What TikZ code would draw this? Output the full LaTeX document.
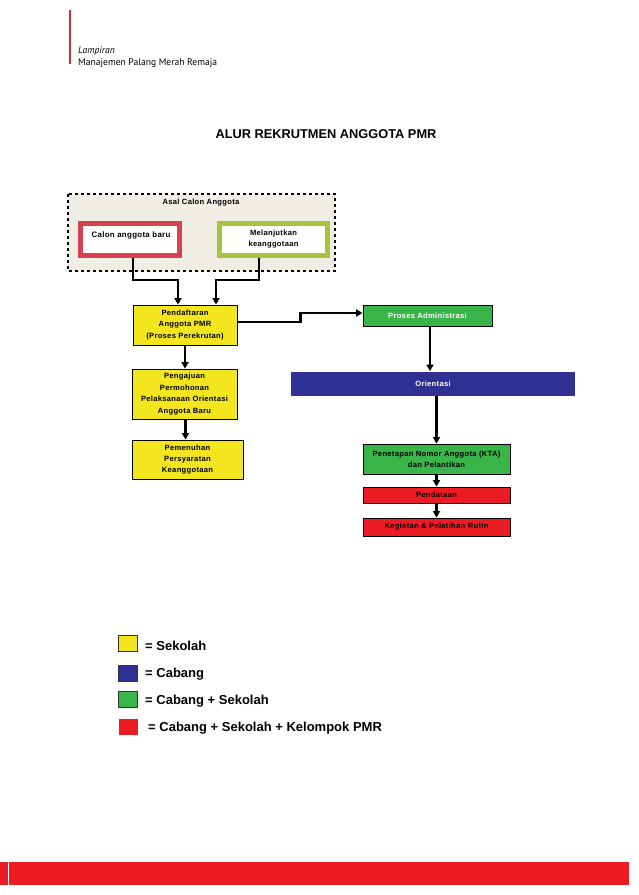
\documentclass[tikz,border=0pt]{standalone}
\usepackage{fontspec}
\setmainfont{Liberation Sans}
\newfontfamily\boxfont{Liberation Sans}[LetterSpace=4]
\newfontfamily\hdrfont{PT Sans}
\usetikzlibrary{arrows.meta,positioning}

\definecolor{pmrred}{HTML}{ED1C24}
\definecolor{pmryellow}{HTML}{F4E61E}
\definecolor{pmrblue}{HTML}{2E3192}
\definecolor{pmrgreen}{HTML}{39B54A}
\definecolor{asalbg}{HTML}{F0EEE4}
\definecolor{barured}{HTML}{D6434E}
\definecolor{lanjutgreen}{HTML}{A8C43C}
\definecolor{hdrred}{HTML}{C8313C}

\tikzset{
  flowbox/.style={draw=black, line width=0.8pt, inner sep=1pt, align=center,
    font=\boxfont\fontsize{7.6}{11.4}\selectfont\bfseries},
  yellowbox/.style={flowbox, fill=pmryellow},
  greenbox/.style={flowbox, fill=pmrgreen, text=white},
  redbox/.style={flowbox, fill=pmrred, text=black},
  bluebox/.style={flowbox, draw=none, fill=pmrblue, text=white},
  asalbox/.style={draw, line width=5pt, fill=white, inner sep=0pt},
  flow/.style={line width=2.6pt, -{Triangle[width=7pt,length=6.5pt]}},
  legendsq/.style={draw=black!80, line width=0.6pt, minimum width=19pt, minimum height=16pt, inner sep=0pt},
  legendtxt/.style={anchor=west, inner sep=0pt, font=\fontsize{13}{15}\selectfont\bfseries},
}

\begin{document}
\begin{tikzpicture}[x=1pt, y=-1pt, line join=miter]

  %% ════ kepala halaman ════
  \draw[hdrred, line width=1.5pt] (70,10) -- (70,64);
  \node[anchor=base west, inner sep=0pt, font=\hdrfont\fontsize{9.6}{10}\selectfont\itshape] (hdrA) at (78,53) {Lampiran};
  \node[anchor=base west, inner sep=0pt, font=\hdrfont\fontsize{9.6}{10}\selectfont] (hdrB) at (78,65) {Manajemen Palang Merah Remaja};

  %% ════ judul ════
  \node[inner sep=0pt, font=\fontsize{12.8}{14}\selectfont\bfseries] (judul) at (326,134) {ALUR REKRUTMEN ANGGOTA PMR};

  %% ════ asal calon anggota ════
  \draw[dashed, line width=1.3pt, fill=asalbg] (68,194) rectangle (335,271);
  \node[inner sep=0pt, font=\boxfont\fontsize{7.6}{8}\selectfont\bfseries] (asal) at (201,203) {Asal Calon Anggota};
  \node[asalbox, draw=barured, minimum width=99pt, minimum height=32pt] (baru) at (130,239.5) {};
  \node[inner sep=0pt, font=\boxfont\fontsize{7.9}{8}\selectfont\bfseries] (barutxt) at (131,235) {Calon anggota baru};
  \node[asalbox, draw=lanjutgreen, minimum width=108pt, minimum height=32pt, align=center,
        font=\boxfont\fontsize{7.6}{11}\selectfont\bfseries] (lanjut) at (273.5,239.5) {Melanjutkan\\keanggotaan};

  %% ════ kolom kiri ════
  \node[yellowbox, minimum width=104pt, minimum height=40pt] (dft) at (185,325) {Pendaftaran\\Anggota PMR\\(Proses Perekrutan)};
  \node[yellowbox, minimum width=105pt, minimum height=50pt] (ajuan) at (184.5,394) {Pengajuan\\Permohonan\\Pelaksanaan Orientasi\\Anggota Baru};
  \node[yellowbox, minimum width=111pt, minimum height=39pt] (penuhan) at (187.5,459.5) {Pemenuhan\\Persyaratan\\Keanggotaan};

  %% ════ kolom kanan ════
  \node[greenbox, minimum width=129pt, minimum height=21pt] (admin) at (427.5,315.5) {Proses Administrasi};
  \node[bluebox, minimum width=284pt, minimum height=24pt] (orient) at (433,383.5) {Orientasi};
  \node[greenbox, text=black, minimum width=147pt, minimum height=30pt] (kta) at (436.5,459) {Penetapan Nomor Anggota (KTA)\\dan Pelantikan};
  \node[redbox, minimum width=147pt, minimum height=16pt] (data) at (436.5,495) {Pendataan};
  \node[redbox, minimum width=147pt, minimum height=18pt] (rutin) at (436.5,527) {Kegiatan \& Pelatihan Rutin};

  %% ════ panah ════
  \draw[flow] ([xshift=3pt]baru.south) -- ++(0,22) -| ([xshift=-7pt]dft.north);
  \draw[flow] ([xshift=-14.5pt]lanjut.south) -- ++(0,22) -| ([xshift=31pt]dft.north);
  \draw[flow] (dft.south) -- (dft.south |- ajuan.north);
  \draw[flow] ([xshift=1pt]ajuan.south) -- ([xshift=1pt]ajuan.south |- penuhan.north);
  \draw[flow] ([yshift=3pt]dft.east) -- ++(63,0) |- ([yshift=2.5pt]admin.west);
  \draw[flow] ([xshift=2.5pt]admin.south) -- ([xshift=2.5pt]admin.south |- orient.north);
  \draw[flow] (orient.south -| kta.north) -- (kta.north);
  \draw[flow] (kta.south) -- (data.north);
  \draw[flow] (data.south) -- (rutin.north);

  %% ════ keterangan warna ════
  \node[legendsq, fill=pmryellow] (lgA) at (128,643) {};
  \node[legendsq, fill=pmrblue] (lgB) at (128,673.5) {};
  \node[legendsq, fill=pmrgreen] (lgC) at (128,699.5) {};
  \node[legendsq, fill=pmrred, draw=none] (lgD) at (128,727) {};
  \node[legendtxt] (lgAt) at (145,646) {= Sekolah};
  \node[legendtxt] (lgBt) at (145,674) {= Cabang};
  \node[legendtxt] (lgCt) at (145,701) {= Cabang + Sekolah};
  \node[legendtxt] (lgDt) at (148,728) {= Cabang + Sekolah + Kelompok PMR};

  %% ════ pita bawah ════
  \fill[pmrred] (0,862) rectangle (629,885);
  \draw[white, line width=0.6pt] (8,862) -- (8,885);

  \pgfresetboundingbox
  \path[use as bounding box] (0,0) rectangle (638,895);
\end{tikzpicture}
\end{document}
